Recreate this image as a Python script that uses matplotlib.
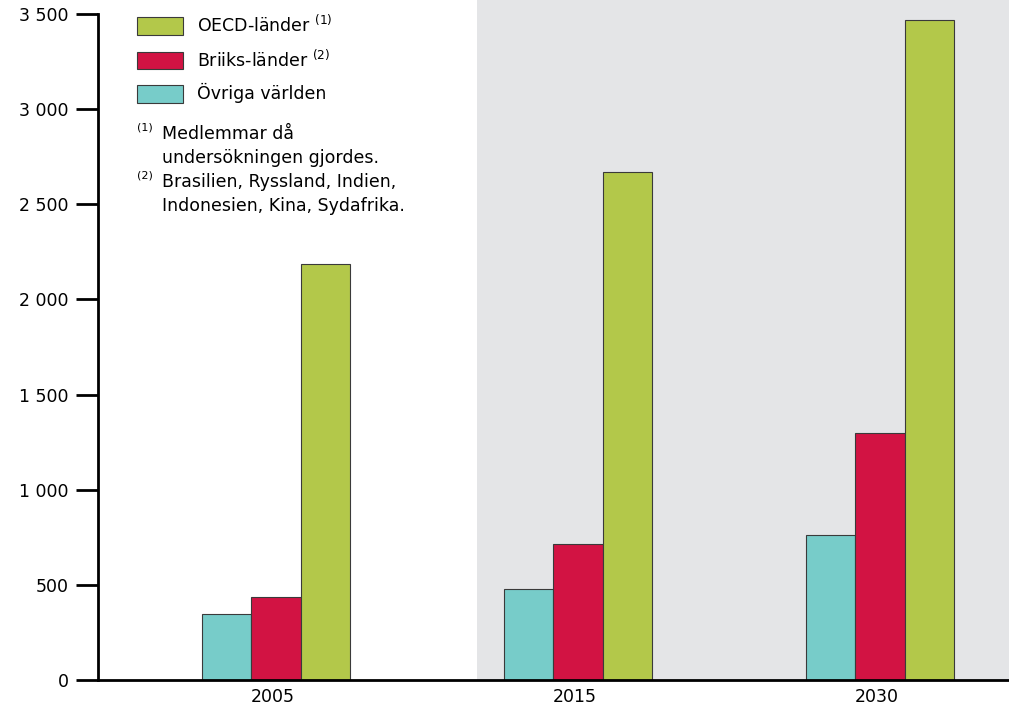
import matplotlib
matplotlib.use("Agg")
import matplotlib.pyplot as plt
from matplotlib.patches import Patch, Rectangle
import matplotlib.transforms as mtransforms
import numpy as np

years = ["2005", "2015", "2030"]
ovriga = [347, 478, 762]
briiks = [436, 715, 1298]
oecd = [2186, 2670, 3469]
series_labels = ["OECD-länder $^{(1)}$", "Briiks-länder $^{(2)}$", "Övriga världen"]
ytick_vals = [0, 500, 1000, 1500, 2000, 2500, 3000, 3500]
ytick_labels = ["0", "500", "1 000", "1 500", "2 000", "2 500", "3 000", "3 500"]

c_green = "#b3c84a"
c_red = "#d21343"
c_cyan = "#77ccc9"
shade = "#e4e5e7"
edge = "#3a3a3a"

W, H = 1009, 717
fig = plt.figure(figsize=(W/100, H/100), dpi=100)
ax = fig.add_axes([98/W, (H-680)/H, (1009-98)/W, 666/H])

x = np.arange(len(years))
bw = 0.163
trans = mtransforms.blended_transform_factory(ax.transData, ax.transAxes)
ax.add_patch(Rectangle((0.666, 0), 3.0, 680/666, transform=trans,
                       facecolor=shade, lw=0, zorder=0, clip_on=False))
ax.bar(x - bw, ovriga, bw, color=c_cyan, edgecolor=edge, lw=0.8, zorder=2)
ax.bar(x, briiks, bw, color=c_red, edgecolor=edge, lw=0.8, zorder=2)
ax.bar(x + bw, oecd, bw, color=c_green, edgecolor=edge, lw=0.8, zorder=2)

ax.set_xlim(-0.589, 2.427)
ax.set_ylim(0, 3500)
ax.set_yticks(ytick_vals)
ax.set_yticklabels(ytick_labels, fontsize=12.5)
ax.set_xticks(x - 0.01)
ax.set_xticklabels(years, fontsize=12.5)
ax.tick_params(axis="x", length=0, pad=6)
ax.tick_params(axis="y", length=16, width=2, pad=5, direction="out")
for s in ["top", "right"]:
    ax.spines[s].set_visible(False)
ax.spines["left"].set_linewidth(2)
ax.spines["bottom"].set_linewidth(2)
ax.spines["left"].set_zorder(3)
ax.spines["bottom"].set_zorder(3)

handles = [Patch(facecolor=c_green, edgecolor=edge, lw=0.8),
           Patch(facecolor=c_red, edgecolor=edge, lw=0.8),
           Patch(facecolor=c_cyan, edgecolor=edge, lw=0.8)]
leg = fig.legend(handles, series_labels, loc="upper left",
                 bbox_to_anchor=(130/W, 1 - 8/H), frameon=False,
                 fontsize=12.5, handlelength=2.65, handleheight=1.2,
                 labelspacing=0.75, handletextpad=0.8, borderaxespad=0)

fs = 12.5
fig.text(137/W, 1 - 128/H, "(1)", fontsize=8, va="center", ha="left")
fig.text(162/W, 1 - 134/H, "Medlemmar då", fontsize=fs, va="center", ha="left")
fig.text(162/W, 1 - 158/H, "undersökningen gjordes.", fontsize=fs, va="center", ha="left")
fig.text(137/W, 1 - 176/H, "(2)", fontsize=8, va="center", ha="left")
fig.text(162/W, 1 - 182/H, "Brasilien, Ryssland, Indien,", fontsize=fs, va="center", ha="left")
fig.text(162/W, 1 - 206/H, "Indonesien, Kina, Sydafrika.", fontsize=fs, va="center", ha="left")

fig.savefig("out.png", dpi=100)
